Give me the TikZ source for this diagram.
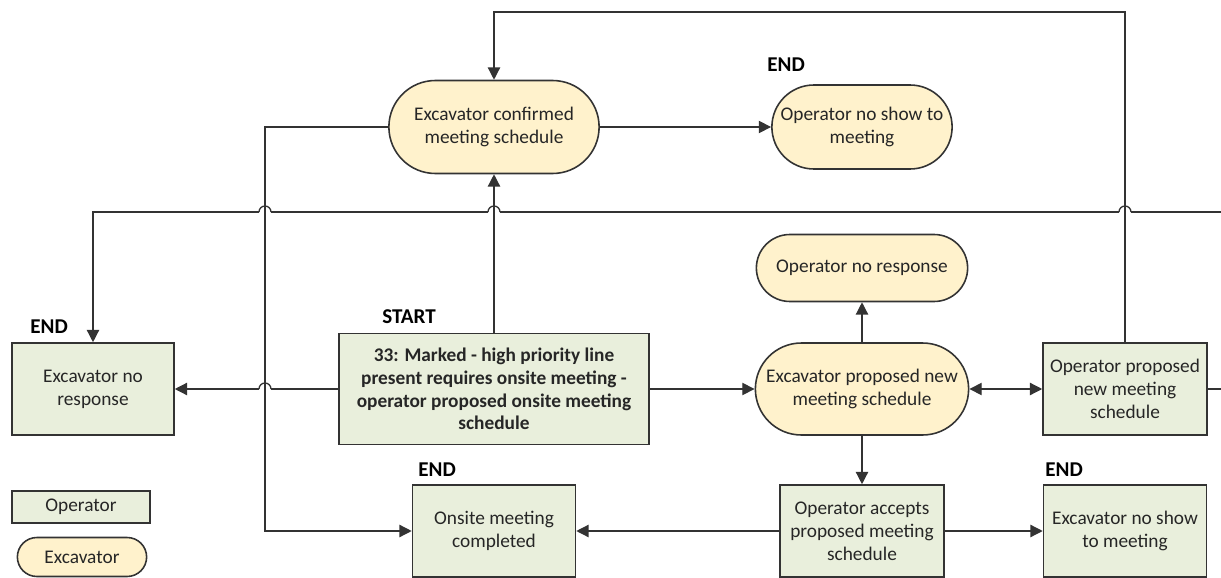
\documentclass[tikz,border=0pt]{standalone}
\usepackage{fontspec}
\setmainfont{Carlito}
\usetikzlibrary{arrows.meta,shapes.misc}
\definecolor{opgreen}{HTML}{E9EFDC}
\definecolor{excream}{HTML}{FFF2CC}
\definecolor{edge}{HTML}{333333}

\begin{document}
\begin{tikzpicture}
     [
     x=0.02cm, y=-0.02cm,
     every node/.style={font=\fontsize{11}{13}\selectfont, align=center, text=black!85},
     opbox/.style={draw=edge, fill=opgreen, line width=0.9pt, rectangle, minimum height=1.84cm},
     exbox/.style={draw=edge, fill=excream, line width=0.9pt, rounded rectangle},
     tag/.style={font=\fontsize{12}{14}\selectfont\bfseries, text=black, anchor=west, inner sep=0pt},
     flow/.style={draw=edge, line width=0.75pt, >={Triangle[length=7pt,width=7pt]}, ->},
     hopline/.style={draw=edge, line width=0.75pt},
     hop/.style={start angle=0, end angle=180, radius=0.12cm}
     ]
     \useasboundingbox (0,0) rectangle (1221,578);
     \node[exbox, minimum width=4.44cm, minimum height=1.86cm] (ecm) at (494,127) {Excavator confirmed\\meeting schedule};
     \node[exbox, minimum width=3.84cm, minimum height=1.68cm] (ons) at (862,127) {Operator no show to\\meeting};
     \node[exbox, minimum width=4.46cm, minimum height=1.34cm] (onr) at (862,268) {Operator no response};
     \node[exbox, minimum width=4.5cm, minimum height=1.84cm] (epn) at (862,389) {Excavator proposed new\\meeting schedule};
     \node[opbox, minimum width=3.28cm] (opn) at (1125,389) {Operator proposed\\new meeting\\schedule};
     \node[opbox, minimum width=6.2cm, minimum height=2.22cm, font=\fontsize{11}{13}\selectfont\bfseries] (s33) at (494,389) {33: Marked - high priority line\\present requires onsite meeting -\\operator proposed onsite meeting\\schedule};
     \node[opbox, minimum width=3.24cm] (enr) at (93,389) {Excavator no\\response};
     \node[opbox, minimum width=3.26cm] (omc) at (494,531) {Onsite meeting\\completed};
     \node[opbox, minimum width=3.28cm] (oap) at (862,531) {Operator accepts\\proposed meeting\\schedule};
     \node[opbox, minimum width=3.26cm] (ens) at (1125,531) {Excavator no show\\to meeting};
     \node[opbox, minimum width=2.76cm, minimum height=0.64cm] (legop) at (81,507) {Operator};
     \node[exbox, minimum width=2.82cm, minimum height=0.78cm] (legex) at (82,557) {Excavator};

     \node[tag] (startlbl) at (382,317) {START};
     \node[tag] (endons) at (767,65) {END};
     \node[tag] (endenr) at (30,327) {END};
     \node[tag] (endomc) at (418,470) {END};
     \node[tag] (endens) at (1045,470) {END};

     \coordinate (topline) at (0,12);
     \coordinate (midline) at (0,212);
     \coordinate (leftline) at (265,0);

     \draw[flow] (opn.north) -- (opn.north |- topline) -| (ecm.north);
     \draw[flow] (ecm.east) -- (ons.west);
     \draw[flow] (s33.north) -- (ecm.south);
     \draw[flow] (ecm.west) -- (ecm.west -| leftline) |- (omc.west);
     \draw[flow] (s33.west) -- (271,389) (259,389) -- (enr.east);
     \draw[flow] (opn.east) -- (1230,389) -- (1230,212) -- (1131,212)
          (1119,212) -- (500,212)
          (488,212) -- (271,212)
          (259,212) -- (enr.north |- midline) -- (enr.north);
     \draw[hopline] (1131,212) arc[hop] (500,212) arc[hop] (271,212) arc[hop] (271,389) arc[hop];
     \draw[flow] (s33.east) -- (epn.west);
     \draw[flow] (epn.north) -- (onr.south);
     \draw[flow, <->] (epn.east) -- (opn.west);
     \draw[flow] (epn.south) -- (oap.north);
     \draw[flow] (oap.west) -- (omc.east);
     \draw[flow] (oap.east) -- (ens.west);
\end{tikzpicture}
\end{document}
